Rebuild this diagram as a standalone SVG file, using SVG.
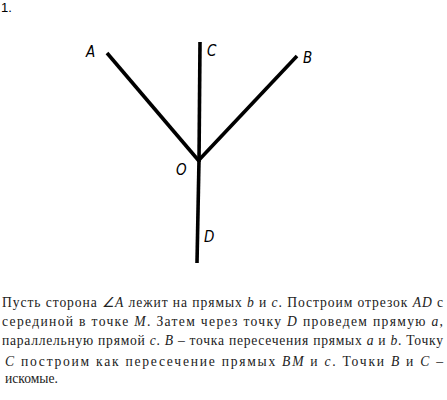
<svg xmlns="http://www.w3.org/2000/svg" width="447" height="400" viewBox="0 0 447 400">
<style>
.ln{stroke:#000;stroke-width:3.6;fill:none;stroke-linecap:butt}
.lb{font-family:"DejaVu Sans Condensed","DejaVu Sans",sans-serif;font-style:italic;font-size:15px;fill:#000}
.tx{font-family:"Liberation Serif","Times New Roman",serif;font-size:13.6px;fill:#222}
.i{font-style:italic}
</style>
<rect width="447" height="400" fill="#fff"/>
<text x="1" y="12" style="font-family:'Liberation Sans',sans-serif;font-size:13px;fill:#000">1.</text>
<g id="connectors">
<line class="ln" x1="107" y1="53" x2="199" y2="161"/>
<line class="ln" x1="297" y1="56" x2="198" y2="161"/>
<line class="ln" x1="200" y1="42" x2="199" y2="162"/>
<line class="ln" x1="199" y1="160" x2="197" y2="263"/>
</g>
<g id="node-A"><text class="lb" x="86" y="57">A</text></g>
<g id="node-C"><text class="lb" x="207" y="56">C</text></g>
<g id="node-B"><text class="lb" x="303" y="63">B</text></g>
<g id="node-O"><text class="lb" x="176" y="175">O</text></g>
<g id="node-D"><text class="lb" x="204" y="242">D</text></g>
<g id="caption">
<text class="tx" x="2" y="307" textLength="441" lengthAdjust="spacing">Пусть сторона <tspan class="i">∠A</tspan> лежит на прямых <tspan class="i">b</tspan> и <tspan class="i">c</tspan>. Построим отрезок <tspan class="i">AD</tspan> с</text>
<text class="tx" x="2" y="326" textLength="441" lengthAdjust="spacing">серединой в точке <tspan class="i">M</tspan>. Затем через точку <tspan class="i">D</tspan> проведем прямую <tspan class="i">a</tspan>,</text>
<text class="tx" x="2" y="345" textLength="441" lengthAdjust="spacing">параллельную прямой <tspan class="i">c</tspan>. <tspan class="i">B</tspan> – точка пересечения прямых <tspan class="i">a</tspan> и <tspan class="i">b</tspan>. Точку</text>
<text class="tx" x="5" y="366" textLength="438" lengthAdjust="spacing"><tspan class="i">C</tspan> построим как пересечение прямых <tspan class="i">BM</tspan> и <tspan class="i">c</tspan>. Точки <tspan class="i">B</tspan> и <tspan class="i">C</tspan> –</text>
<text class="tx" x="5" y="383">искомые.</text>
</g>
</svg>
